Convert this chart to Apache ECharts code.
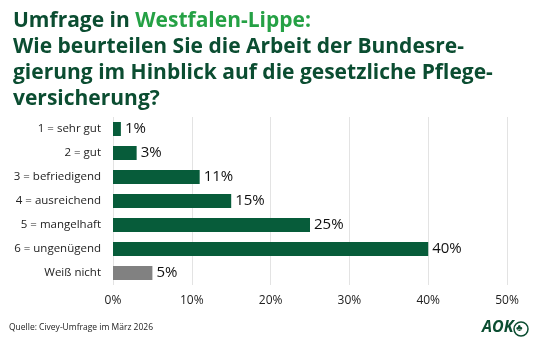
<!DOCTYPE html>
<html><head><meta charset="utf-8">
<script src="https://cdn.jsdelivr.net/npm/echarts@6/dist/echarts.min.js"></script>
<style>html,body{margin:0;padding:0;background:#fff}#c{width:535px;height:349px}</style>
</head><body><div id="c"></div>
<script>
var categories = ['1 = sehr gut','2 = gut','3 = befriedigend','4 = ausreichend','5 = mangelhaft','6 = ungenügend','Weiß nicht'];
var values = [1,3,11,15,25,40,5];
var tickValues = [0,10,20,30,40,50];
var FONT = '"Open Sans", "Noto Sans", sans-serif';
var DARK = '#0b4d31', LIGHT = '#25a145', BAR = '#075c3a', GREY = '#818181';
var chart = echarts.init(document.getElementById('c'));
chart.setOption({
  animation:false,
  textStyle:{fontFamily:FONT},
  title:{
    left:8, top:3,
    text:'{a|Umfrage in }{b|Westfalen-Lippe:}\n{a|Wie beurteilen Sie die Arbeit der Bundesre-}\n{a|gierung im Hinblick auf die gesetzliche Pflege-}\n{a|versicherung?}',
    textStyle:{
      rich:{
        a:{fontFamily:FONT,fontSize:21,fontWeight:'bold',color:DARK,lineHeight:26},
        b:{fontFamily:FONT,fontSize:21,fontWeight:'bold',color:LIGHT,lineHeight:26}
      }
    }
  },
  grid:{left:113,right:28,top:117,bottom:64,containLabel:false},
  xAxis:{
    type:'value',min:0,max:50,interval:10,
    axisLine:{show:false},axisTick:{show:false},
    splitLine:{lineStyle:{color:'#e3e3e3',width:1}},
    axisLabel:{formatter:'{value}%',fontSize:12,color:'#222',margin:10,fontFamily:FONT}
  },
  yAxis:{
    type:'category',data:categories,inverse:true,
    axisLine:{show:false},axisTick:{show:false},
    axisLabel:{fontSize:11.5,color:'#222',margin:12,fontFamily:FONT}
  },
  series:[{
    type:'bar',barWidth:14,
    data:values.map(function(v,i){return {value:v,itemStyle:{color:i===values.length-1?GREY:BAR}};}),
    label:{show:true,position:'right',distance:4,formatter:'{c}%',fontSize:15,color:'#111',fontFamily:FONT}
  }],
  graphic:[
    {type:'text',left:9,top:323,style:{text:'Quelle: Civey-Umfrage im März 2026',font:'8.5px '+FONT,fill:'#222'}},
    {type:'text',left:482,top:319,style:{text:'AOK',font:'italic bold 16px '+FONT,fill:DARK}},
    {type:'circle',shape:{cx:521,cy:329,r:7},style:{fill:'none',stroke:DARK,lineWidth:1.5}},
    {type:'text',left:516,top:323,style:{text:'♣',font:'10px '+FONT,fill:DARK}}
  ]
});
</script></body></html>
